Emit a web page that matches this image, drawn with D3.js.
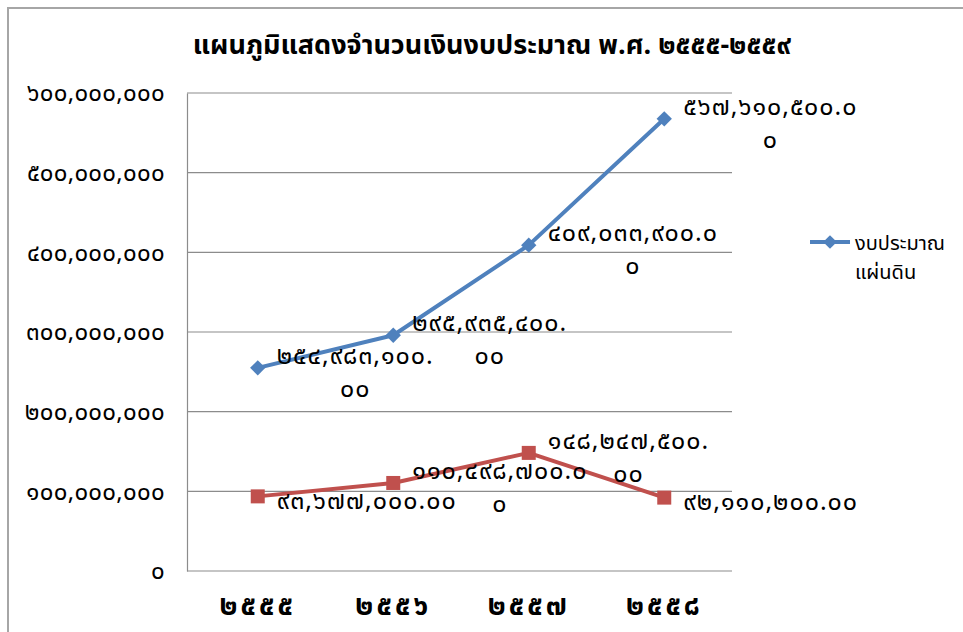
<!DOCTYPE html>
<html>
<head>
<meta charset="utf-8">
<script src="https://cdn.jsdelivr.net/npm/d3@7"></script>
<style>
  body { margin: 0; background: #fff; }
  svg { display: block; }
  text { font-family: "Noto Sans Thai", "Noto Sans", "DejaVu Sans", sans-serif; fill: #000; }
</style>
</head>
<body>
<svg id="chart" width="963" height="632"></svg>
<script>
const title = "แผนภูมิแสดงจำนวนเงินงบประมาณ พ.ศ. ๒๕๕๕-๒๕๕๙";
const categories = ["๒๕๕๕", "๒๕๕๖", "๒๕๕๗", "๒๕๕๘"];
const budgetValues = [254983100, 295935400, 409033900, 567610500];
const budgetLabels = [["๒๕๔,๙๘๓,๑๐๐.", "๐๐"], ["๒๙๕,๙๓๕,๔๐๐.", "๐๐"], ["๔๐๙,๐๓๓,๙๐๐.๐", "๐"], ["๕๖๗,๖๑๐,๕๐๐.๐", "๐"]];
const otherValues = [93677000, 110498700, 148247500, 92110200];
const otherLabels = [["๙๓,๖๗๗,๐๐๐.๐๐"], ["๑๑๐,๔๙๘,๗๐๐.๐", "๐"], ["๑๔๘,๒๔๗,๕๐๐.", "๐๐"], ["๙๒,๑๑๐,๒๐๐.๐๐"]];
const yTicks = [0, 100000000, 200000000, 300000000, 400000000, 500000000, 600000000];
const yTickLabels = ["๐", "๑๐๐,๐๐๐,๐๐๐", "๒๐๐,๐๐๐,๐๐๐", "๓๐๐,๐๐๐,๐๐๐", "๔๐๐,๐๐๐,๐๐๐", "๕๐๐,๐๐๐,๐๐๐", "๖๐๐,๐๐๐,๐๐๐"];
const legendLabel = ["งบประมาณ", "แผ่นดิน"];

const svg = d3.select("#chart");
const blue = "#4F81BD", red = "#C0504D";

// outer border
svg.append("path").attr("d", "M8,632 V8 H963").attr("fill", "none").attr("stroke", "#a6a6a6").attr("stroke-width", 2);

const x = d3.scaleBand().domain(categories).range([190, 732]);
const y = d3.scaleLinear().domain([0, 600000000]).range([571, 93]);

// gridlines
svg.append("g").selectAll("line").data(yTicks.slice(1)).join("line")
  .attr("x1", 187).attr("x2", 732)
  .attr("y1", d => y(d)).attr("y2", d => y(d))
  .attr("stroke", "#8c8c8c").attr("stroke-width", 1.2);

// y axis
const yAxis = d3.axisLeft(y).tickValues(yTicks).tickFormat((d, i) => yTickLabels[i]).tickSize(0).tickPadding(22);
const gy = svg.append("g").attr("transform", "translate(187,0)").call(yAxis);
gy.select(".domain").attr("stroke", "#8c8c8c").attr("stroke-width", 1.2);
gy.selectAll("text").style("font-size", "24px").style("letter-spacing", "0.3px").attr("dy", "0.32em");

// x axis
const xAxis = d3.axisBottom(x).tickSize(0).tickPadding(24);
const gx = svg.append("g").attr("transform", "translate(0,571)").call(xAxis);
gx.select(".domain").attr("stroke", "#8c8c8c").attr("stroke-width", 1.2).attr("d", "M187,0H732");
gx.selectAll("text").style("font-size", "28px").style("font-weight", "bold").style("letter-spacing", "3px");

const cx = d => x(d) + x.bandwidth() / 2;
const line = d3.line().x((d, i) => cx(categories[i])).y(d => y(d));

svg.append("path").datum(budgetValues).attr("d", line).attr("fill", "none").attr("stroke", blue).attr("stroke-width", 4).attr("stroke-linejoin", "round");
svg.append("path").datum(otherValues).attr("d", line).attr("fill", "none").attr("stroke", red).attr("stroke-width", 4).attr("stroke-linejoin", "round");

svg.append("g").selectAll("path").data(budgetValues).join("path")
  .attr("d", d3.symbol(d3.symbolDiamond2 || d3.symbolDiamond, 150))
  .attr("transform", (d, i) => `translate(${cx(categories[i])},${y(d)})`)
  .attr("fill", blue);
svg.append("g").selectAll("rect").data(otherValues).join("rect")
  .attr("x", (d, i) => cx(categories[i]) - 7).attr("y", d => y(d) - 7)
  .attr("width", 14).attr("height", 14).attr("fill", red);

function drawLabels(values, labels) {
  const g = svg.append("g");
  values.forEach((v, i) => {
    const px = cx(categories[i]), py = y(v);
    const lines = labels[i];
    const t = g.append("text").style("font-size", "25px").style("letter-spacing", "1px").attr("text-anchor", "middle");
    const lh = 33;
    const top = py + 4 - (lines.length - 1) * lh / 2;
    lines.forEach((s, k) => {
      t.append("tspan").attr("y", top + k * lh).attr("dy", "0.35em").text(s);
    });
    let w = 0;
    t.selectAll("tspan").each(function () { w = Math.max(w, this.getComputedTextLength()); });
    t.selectAll("tspan").attr("x", px + 19 + w / 2);
  });
}
drawLabels(budgetValues, budgetLabels);
drawLabels(otherValues, otherLabels);

// title
svg.append("text").attr("x", 492).attr("y", 45).attr("text-anchor", "middle").attr("dy", "0.35em")
  .style("font-size", "27px").style("font-weight", "bold").text(title);

// legend
const lg = svg.append("g");
lg.append("line").attr("x1", 810).attr("x2", 850).attr("y1", 242).attr("y2", 242).attr("stroke", blue).attr("stroke-width", 4);
lg.append("path").attr("d", d3.symbol(d3.symbolDiamond2 || d3.symbolDiamond, 120)).attr("transform", "translate(830,242)").attr("fill", blue);
lg.append("text").attr("x", 855).attr("y", 243).attr("dy", "0.35em").style("font-size", "20px").text(legendLabel[0]);
lg.append("text").attr("x", 855).attr("y", 272).attr("dy", "0.35em").style("font-size", "20px").text(legendLabel[1]);
</script>
</body>
</html>
